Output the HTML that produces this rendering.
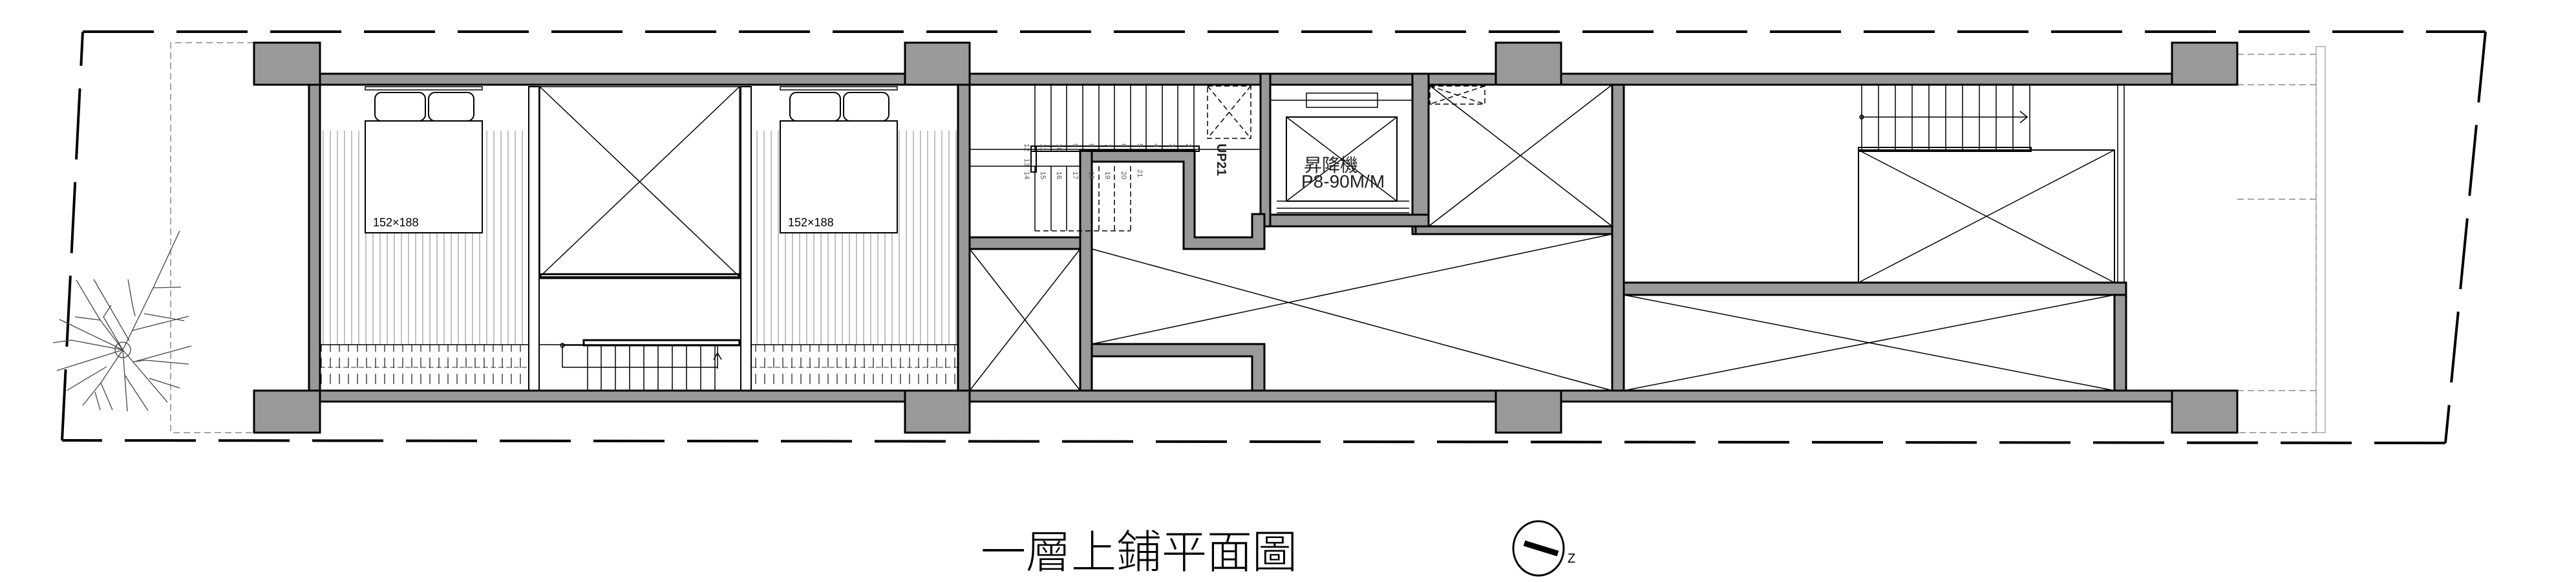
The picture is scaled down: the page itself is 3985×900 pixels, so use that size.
<!DOCTYPE html>
<html><head><meta charset="utf-8"><style>
html,body{margin:0;padding:0;background:#fff;width:3985px;height:900px;overflow:hidden}
svg{display:block}
</style></head><body>
<svg width="3985" height="900" viewBox="0 0 3985 900" xmlns="http://www.w3.org/2000/svg">
<defs>
<pattern id="hatch" width="11" height="20" patternUnits="userSpaceOnUse"><line x1="5" y1="0" x2="5" y2="20" stroke="#999" stroke-width="1.2"/></pattern>
<pattern id="ward" width="14" height="25" patternUnits="userSpaceOnUse"><line x1="7" y1="3" x2="7" y2="19" stroke="#333" stroke-width="1.4"/></pattern>
</defs>
<g stroke="#000" stroke-width="4" fill="none" stroke-dasharray="110,35">
<path d="M128,49 L3845,49"/>
<path d="M3845,49 L3783,685"/>
<path d="M3783,685 L96,681"/>
<path d="M96,681 L128,49"/>
</g>
<g stroke="#888" stroke-width="1.5" fill="none" stroke-dasharray="10,6">
<path d="M393,66 L264,66 L264,669 L393,669"/>
<path d="M3461,84 L3583,84 L3583,669 L3461,669"/>
<path d="M3461,131 L3583,131 M3461,308 L3583,308 M3461,604 L3583,604"/>
</g>
<rect x="3583" y="72" width="14" height="597" fill="none" stroke="#aaa" stroke-width="1.5"/>
<g stroke="#444" stroke-width="1.3" fill="none">
<circle cx="190" cy="541" r="12"/>
<path d="M190,541 L237,445 L238,445 L280,444 M237,445 L278,357 M200,527 L145,432 M190,541 L92,494 M190,541 L88,573 M190,541 L160,490 L172,472 M190,541 L156,592 L128,627 M165,567 L103,604 M190,541 L197,636 M190,541 L259,622 M210,559 L225,557 L292,563 M205,560 L296,535 M231,585 L278,600 M193,580 L229,635 M147,606 L155,634 M156,592 L174,634 M190,541 L155,495 L118,433 M155,495 L116,490 M190,541 L110,526 L82,530 M205,511 L292,489 M223,485 L285,496 M209,489 L205,472 L198,432"/>
</g>
<rect x="495" y="202" width="321" height="331" fill="url(#hatch)"/>
<rect x="1163" y="202" width="319" height="331" fill="url(#hatch)"/>
<rect x="495" y="533" width="321" height="70" fill="url(#ward)"/>
<rect x="1163" y="533" width="319" height="70" fill="url(#ward)"/>
<line x1="495" y1="533" x2="1482" y2="533" stroke="#000" stroke-width="1.5"/>
<line x1="495" y1="568" x2="816" y2="568" stroke="#333" stroke-width="1" stroke-dasharray="8,4"/>
<line x1="1163" y1="568" x2="1482" y2="568" stroke="#333" stroke-width="1" stroke-dasharray="8,4"/>
<g stroke="#000" stroke-width="2" fill="#fff">
<rect x="565" y="187" width="181" height="173"/>
<rect x="1207" y="187" width="181" height="173"/>
<rect x="580" y="143" width="78" height="44" rx="10"/><rect x="663" y="143" width="70" height="44" rx="10"/>
<rect x="1222" y="143" width="78" height="44" rx="10"/><rect x="1305" y="143" width="70" height="44" rx="10"/>
</g>
<rect x="565" y="134" width="181" height="5" fill="none" stroke="#000" stroke-width="1.5"/>
<rect x="1207" y="134" width="181" height="5" fill="none" stroke="#000" stroke-width="1.5"/>
<text x="577" y="350" font-family="Liberation Sans, sans-serif" font-size="18">152×188</text>
<text x="1219" y="350" font-family="Liberation Sans, sans-serif" font-size="18">152×188</text>
<g stroke="#000" stroke-width="2" fill="#fff">
<rect x="818" y="134" width="16" height="470"/>
<rect x="1146" y="134" width="16" height="470"/>
<rect x="480" y="225" width="14" height="380"/>
</g>
<g stroke="#000" stroke-width="1.5" fill="none">
<rect x="835" y="134" width="309" height="294"/>
<path d="M835,134 L1144,428 M1144,134 L835,428"/>
<rect x="835" y="424" width="309" height="6" stroke-width="3"/>
</g>
<g stroke="#000" stroke-width="1.5" fill="none">
<rect x="903" y="526" width="241" height="8" stroke-width="3"/>
<path d="M909,534 V603 M930,534 V603 M952,534 V603 M974,534 V603 M996,534 V603 M1018,534 V603 M1040,534 V603 M1062,534 V603 M1084,534 V603 M1106,534 V603"/>
<path d="M870,534 H1110 M870,534 V568 H1110 V534 M1110,570 V546 M1104,556 L1110,546 L1116,556"/>
<circle cx="870" cy="534" r="3"/>
</g>
<g fill="#999" stroke="#000" stroke-width="3">
<rect x="495" y="114" width="2865" height="17"/>
<rect x="495" y="604" width="2865" height="17"/>
<rect x="478" y="131" width="17" height="473"/>
<rect x="1482" y="131" width="18" height="473"/>
<rect x="1950" y="114" width="15" height="236"/>
<rect x="2185" y="114" width="25" height="248"/>
<rect x="1965" y="332" width="245" height="18"/>
<rect x="2190" y="350" width="304" height="12"/>
<rect x="1500" y="367" width="189" height="18"/>
<rect x="1671" y="233" width="18" height="371"/>
<path d="M1671,233 H1848 V367 H1937 V331 H1956 V385 H1831 V250 H1689 V233 Z"/>
<path d="M1689,532 H1956 V604 H1937 V551 H1689 Z"/>
<rect x="2494" y="131" width="18" height="473"/>
<rect x="2512" y="437" width="777" height="19"/>
<rect x="3271" y="456" width="18" height="148"/>
<rect x="393" y="66" width="102" height="65"/>
<rect x="1400" y="66" width="100" height="65"/>
<rect x="2314" y="66" width="101" height="65"/>
<rect x="3360" y="66" width="101" height="65"/>
<rect x="393" y="604" width="102" height="65"/>
<rect x="1400" y="604" width="100" height="65"/>
<rect x="2314" y="604" width="101" height="65"/>
<rect x="3360" y="604" width="101" height="65"/>
</g>
<g stroke="#000" stroke-width="1.5" fill="none">
<rect x="1500" y="385" width="171" height="219" stroke-width="2.5"/>
<path d="M1500,385 L1671,604 M1671,385 L1500,604"/>
<path d="M1689,385 L2494,604 M1689,532 L2494,362"/>
<rect x="2210" y="131" width="284" height="219" stroke-width="2"/>
<path d="M2210,131 L2494,350 M2494,131 L2210,350"/>
<rect x="2512" y="456" width="759" height="148" stroke-width="2"/>
<path d="M2512,456 L3271,604 M3271,456 L2512,604"/>
<rect x="2875" y="232" width="396" height="205" stroke-width="2"/>
<path d="M2875,232 L3271,437 M3271,232 L2875,437"/>
<line x1="3286" y1="131" x2="3286" y2="437"/>
<line x1="3276" y1="131" x2="3276" y2="437"/>
<path d="M2880,131 V232 M2906,131 V232 M2932,131 V232 M2958,131 V232 M2984,131 V232 M3010,131 V232 M3036,131 V232 M3062,131 V232 M3088,131 V232 M3114,131 V232 M3140,131 V232"/>
<path d="M2878,181 H3135 M3125,172 L3136,181 L3125,190"/>
<circle cx="2880" cy="181" r="3"/>
<rect x="2875" y="228" width="267" height="6" stroke-width="2"/>
<path d="M1601,131 V233 M1626,131 V233 M1650,131 V233 M1675,131 V233 M1700,131 V233 M1724,131 V233 M1749,131 V233 M1773,131 V233 M1798,131 V233 M1822,131 V233 M1847,131 V233"/>
<path d="M1500,231 H1950 M1500,257 H1671" />
<path d="M1601,257 V357 M1626,257 V357 M1650,257 V357"/>
<g stroke-dasharray="8,5"><path d="M1700,257 V357 M1724,257 V357 M1749,257 V357 M1601,357 H1749"/></g>
<rect x="1595" y="226" width="260" height="8" stroke-width="2"/>
<rect x="1595" y="226" width="8" height="40" stroke-width="2"/>
<g stroke-dasharray="8,5"><rect x="1868" y="133" width="67" height="81"/><path d="M1868,133 L1935,214 M1935,133 L1868,214"/>
<rect x="2212" y="133" width="85" height="28"/><path d="M2212,133 L2297,161 M2297,133 L2212,161"/></g>
<rect x="2021" y="144" width="110" height="22"/>
<path d="M1965,155 H2185"/>
<rect x="1990" y="181" width="171" height="130" stroke-width="2"/>
<path d="M1990,181 L2161,311 M2161,181 L1990,311"/>
<path d="M1975,311 H2180 M1975,322 H2180 M1975,329 H2180"/>
</g>
<g font-family="Liberation Sans, sans-serif" fill="#222">
<text x="2017" y="265" font-size="28" font-family="Liberation Sans, Noto Sans CJK TC, sans-serif">昇降機</text>
<text x="2013" y="290" font-size="28">P8-90M/M</text>
<text transform="translate(1883,222) rotate(90)" font-size="20" font-weight="bold">UP21</text>
<g font-size="11" fill="#555">
<text transform="translate(1585,222) rotate(90)">12</text>
<text transform="translate(1610,222) rotate(90)">11</text>
<text transform="translate(1635,222) rotate(90)">10</text>
<text transform="translate(1660,222) rotate(90)">9</text>
<text transform="translate(1685,222) rotate(90)">8</text>
<text transform="translate(1710,222) rotate(90)">7</text>
<text transform="translate(1735,222) rotate(90)">6</text>
<text transform="translate(1760,222) rotate(90)">5</text>
<text transform="translate(1785,222) rotate(90)">4</text>
<text transform="translate(1810,222) rotate(90)">3</text>
<text transform="translate(1835,222) rotate(90)">2</text>
<text transform="translate(1585,245) rotate(90)">13</text>
<text transform="translate(1585,265) rotate(90)">14</text>
<text transform="translate(1610,265) rotate(90)">15</text>
<text transform="translate(1635,265) rotate(90)">16</text>
<text transform="translate(1660,265) rotate(90)">17</text>
<text transform="translate(1685,265) rotate(90)">18</text>
<text transform="translate(1710,265) rotate(90)">19</text>
<text transform="translate(1735,265) rotate(90)">20</text>
<text transform="translate(1760,262) rotate(90)">21</text>
</g>
</g>
<text x="1517" y="878" font-family="Liberation Sans, Noto Sans CJK TC, sans-serif" font-size="70" font-weight="300" fill="#000">一層上鋪平面圖</text>
<ellipse cx="2380" cy="848" rx="39" ry="42" fill="none" stroke="#000" stroke-width="3"/>
<line x1="2358" y1="840" x2="2410" y2="856" stroke="#000" stroke-width="9"/>
<text x="2425" y="870" font-family="Liberation Sans, sans-serif" font-size="20">Z</text>
</svg>
</body></html>
